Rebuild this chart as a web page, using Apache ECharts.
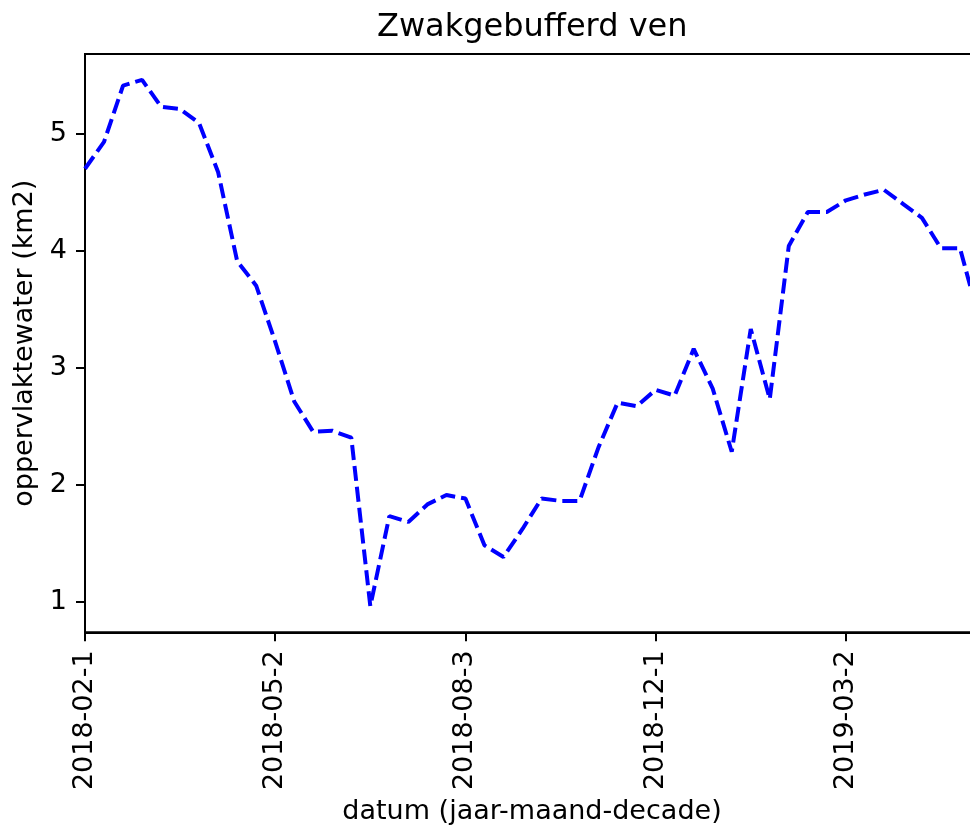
<!DOCTYPE html>
<html>
<head>
<meta charset="utf-8">
<title>Zwakgebufferd ven</title>
<script src="https://cdn.jsdelivr.net/npm/echarts@6/dist/echarts.min.js"></script>
<style>
    html, body { margin: 0; padding: 0; background: #fff; overflow: hidden; }
    /* the plot runs a little past the right edge of the window, like the cropped original */
    #chart { width: 980px; height: 830px; }
</style>
</head>
<body>
<div id="chart"></div>
<script>
// decaden (jaar-maand-decade)
var datums = [
    '2018-02-1', '2018-02-2', '2018-02-3', '2018-03-1', '2018-03-2', '2018-03-3',
    '2018-04-1', '2018-04-2', '2018-04-3', '2018-05-1', '2018-05-2', '2018-05-3',
    '2018-06-1', '2018-06-2', '2018-06-3', '2018-07-1', '2018-07-2', '2018-07-3',
    '2018-08-1', '2018-08-2', '2018-08-3', '2018-09-1', '2018-09-2', '2018-09-3',
    '2018-10-1', '2018-10-2', '2018-10-3', '2018-11-1', '2018-11-2', '2018-11-3',
    '2018-12-1', '2018-12-2', '2018-12-3', '2019-01-1', '2019-01-2', '2019-01-3',
    '2019-02-1', '2019-02-2', '2019-02-3', '2019-03-1', '2019-03-2', '2019-03-3',
    '2019-04-1', '2019-04-2', '2019-04-3', '2019-05-1', '2019-05-2', '2019-05-3'
];

// oppervlakte water in km2
var oppervlakte = [
    4.70, 4.93, 5.41, 5.46, 5.23, 5.21, 5.09, 4.67, 3.91, 3.70,
    3.22, 2.71, 2.45, 2.46, 2.40, 0.96, 1.73, 1.68, 1.83, 1.91,
    1.88, 1.48, 1.38, 1.62, 1.88, 1.86, 1.86, 2.32, 2.70, 2.67,
    2.81, 2.76, 3.16, 2.82, 2.28, 3.33, 2.73, 4.04, 4.33, 4.33,
    4.43, 4.48, 4.52, 4.40, 4.28, 4.02, 4.02, 3.42
];

var yTicks = [1, 2, 3, 4, 5];

var fontFam = 'DejaVu Sans';

var chartDom = document.getElementById('chart');
var chart = echarts.init(chartDom);
var option = {
    animation: false,
    backgroundColor: '#fff',
    title: {
        text: 'Zwakgebufferd ven',
        left: 377,
        top: 12,
        padding: 0,
        textStyle: {
            fontFamily: fontFam,
            fontSize: 32,
            fontWeight: 'normal',
            color: '#000'
        }
    },
    grid: {
        left: 85,
        top: 54,
        right: 1,
        bottom: 195,
        show: true,
        borderColor: '#000',
        borderWidth: 2,
        backgroundColor: 'transparent'
    },
    xAxis: {
        type: 'category',
        data: datums,
        boundaryGap: false,
        name: 'datum (jaar-maand-decade)',
        nameLocation: 'middle',
        nameGap: 163,
        nameTextStyle: { fontFamily: fontFam, fontSize: 27, color: '#000' },
        axisLine: { show: true, lineStyle: { color: '#000', width: 2 } },
        axisTick: { show: true, interval: 9, length: 9, lineStyle: { color: '#000', width: 2 } },
        axisLabel: {
            interval: 9,
            rotate: 90,
            margin: 18,
            fontFamily: fontFam,
            fontSize: 27,
            color: '#000'
        },
        splitLine: { show: false }
    },
    yAxis: {
        type: 'value',
        min: 0.736,
        max: 5.681,
        name: 'oppervlaktewater (km2)',
        nameLocation: 'middle',
        nameGap: 44,
        nameTextStyle: { fontFamily: fontFam, fontSize: 27, color: '#000' },
        axisLine: { show: true, lineStyle: { color: '#000', width: 2 } },
        axisTick: { show: true, length: 9, customValues: yTicks, lineStyle: { color: '#000', width: 2 } },
        axisLabel: {
            customValues: yTicks,
            margin: 18,
            fontFamily: fontFam,
            fontSize: 27,
            color: '#000'
        },
        splitLine: { show: false }
    },
    series: [
        {
            name: 'oppervlakte',
            type: 'line',
            data: oppervlakte,
            symbol: 'none',
            lineStyle: {
                color: '#0000ff',
                width: 4,
                type: [15, 6]
            }
        }
    ]
};
chart.setOption(option);
</script>
</body>
</html>
